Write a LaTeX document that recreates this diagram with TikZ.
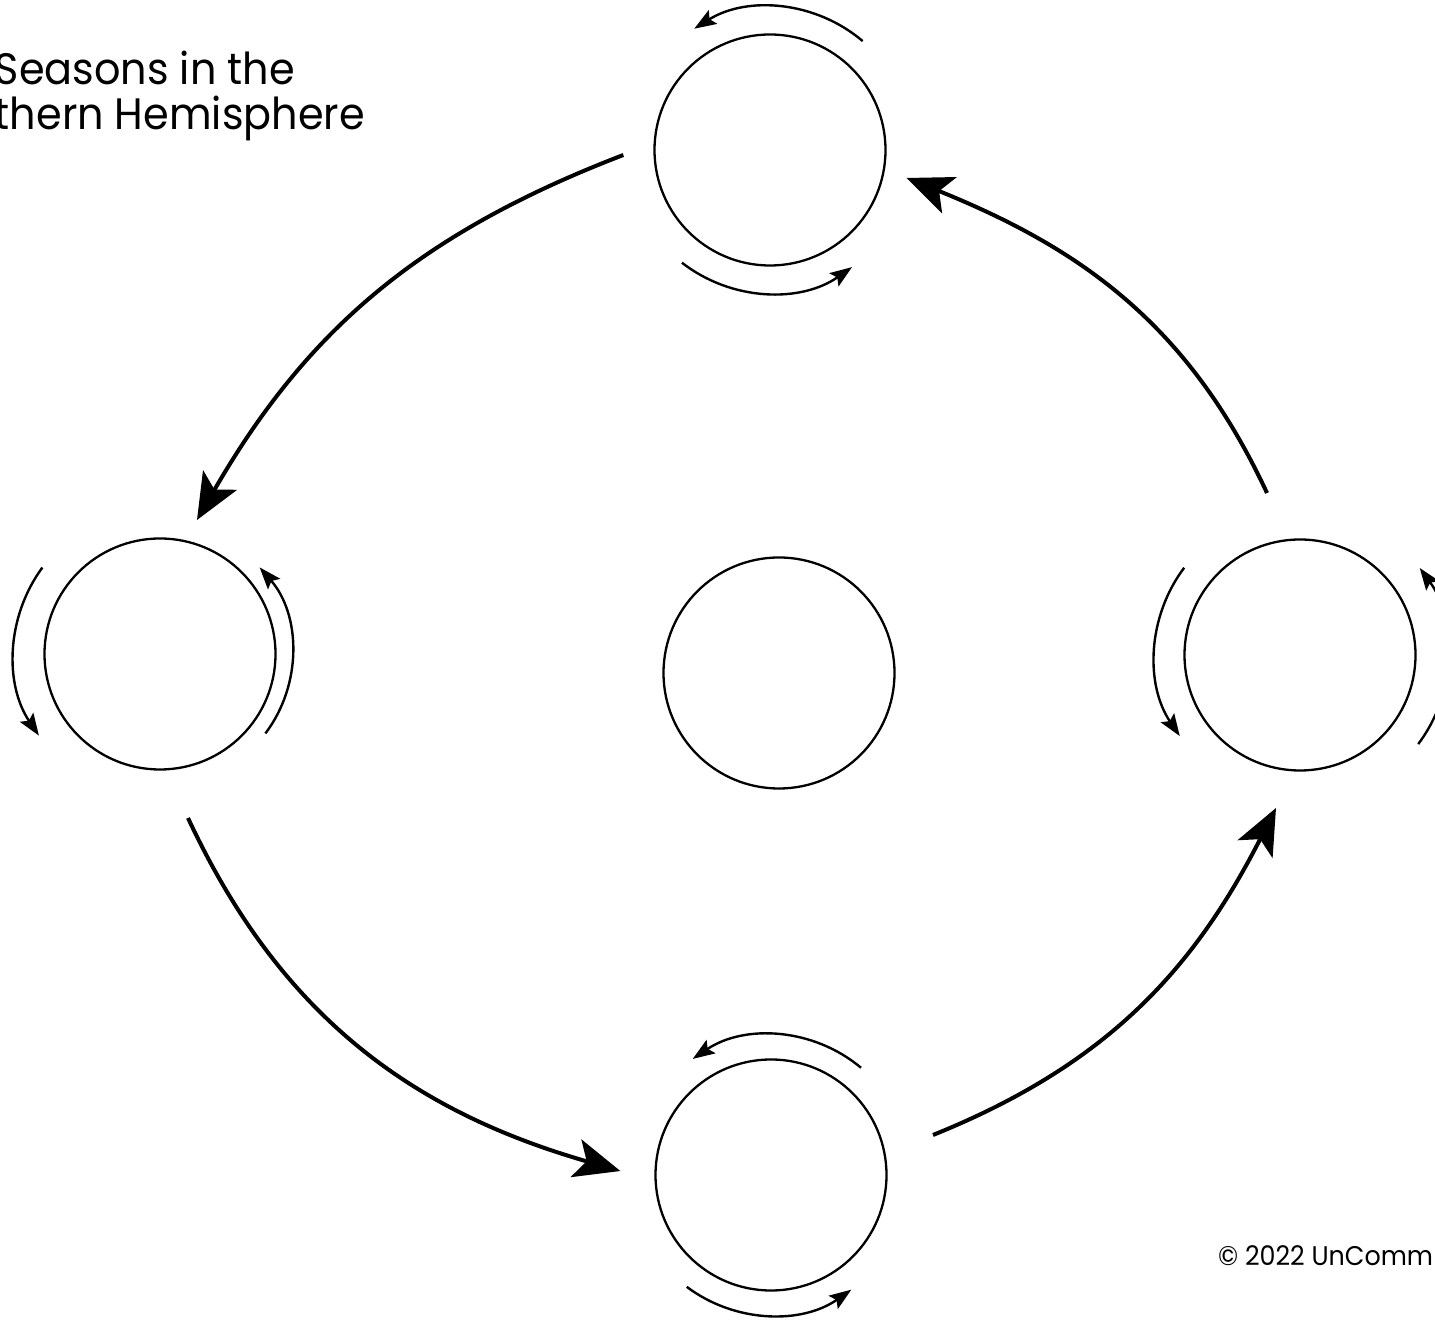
\documentclass[tikz,border=0pt]{standalone}
\usepackage{fontspec}
\setmainfont{Poppins}[FakeStretch=0.94]
\usetikzlibrary{arrows.meta, positioning}

\begin{document}
\begin{tikzpicture}[x=1pt, y=1pt,
  globe/.style={circle, draw, line width=2.3pt, minimum size=231pt, inner sep=0pt},
  season/.style={line width=4pt, -{Stealth[length=46pt, width=39pt, inset=11pt]}},
  spin/.style={line width=2.4pt, -{Stealth[length=22pt, width=16pt, inset=4pt]}}]
\useasboundingbox (0.000000,0.000000) rectangle (1435.000000,1323.000000);
\clip (0.000000,0.000000) rectangle (1435.000000,1323.000000);
\node (title1) at (295.000000,1238.000000) [anchor=base east, inner sep=0pt, font=\fontsize{44}{44}\selectfont] {Seasons in the};
\node (title2) at (365.000000,1193.000000) [anchor=base east, inner sep=0pt, font=\fontsize{44}{44}\selectfont] {Northern Hemisphere};
\node (copy) at (1218.000000,58.000000) [anchor=base west, inner sep=0pt, font=\fontsize{27}{27}\selectfont] {© 2022 UnComm};
\node (top) at (770.000000,1173.000000) [globe] {};
\node (left) at (160.000000,669.000000) [globe] {};
\node (sun) at (779.000000,650.000000) [globe] {};
\node (right) at (1300.000000,668.000000) [globe] {};
\node (bottom) at (771.000000,148.000000) [globe] {};
\draw [season] ([shift={(-30,-5)}]top.west) to [out=201, in=60] ([shift={(37,134)}]left.center);
\draw [season] ([shift={(28,-164)}]left.center) to [out=-65, in=164] ([shift={(-34,4)}]bottom.west);
\draw [season] ([shift={(162,40)}]bottom.center) to [out=22, in=243] ([shift={(-24,-153)}]right.center);
\draw [season] ([shift={(-33,162)}]right.center) to [out=115, in=-22] ([shift={(20,-28)}]top.east);
\draw [spin] (top.center) ++(49.6:143) arc [start angle=49.6, end angle=122, radius=143];
\draw [spin] (top.center) ++(-128:143) arc [start angle=-128, end angle=-55, radius=143];
\draw [spin] (left.center) ++(143.7:146) arc [start angle=143.7, end angle=214, radius=146];
\draw [spin] (left.center) ++(-37:132) arc [start angle=-37, end angle=41, radius=132];
\draw [spin] (right.center) ++(143:145) arc [start angle=143, end angle=214, radius=145];
\draw [spin] (right.center) ++(-37:148) arc [start angle=-37, end angle=36, radius=148];
\draw [spin] (bottom.center) ++(50:140) arc [start angle=50, end angle=124, radius=140];
\draw [spin] (bottom.center) ++(-127:140) arc [start angle=-127, end angle=-55, radius=140];
\end{tikzpicture}
\end{document}
